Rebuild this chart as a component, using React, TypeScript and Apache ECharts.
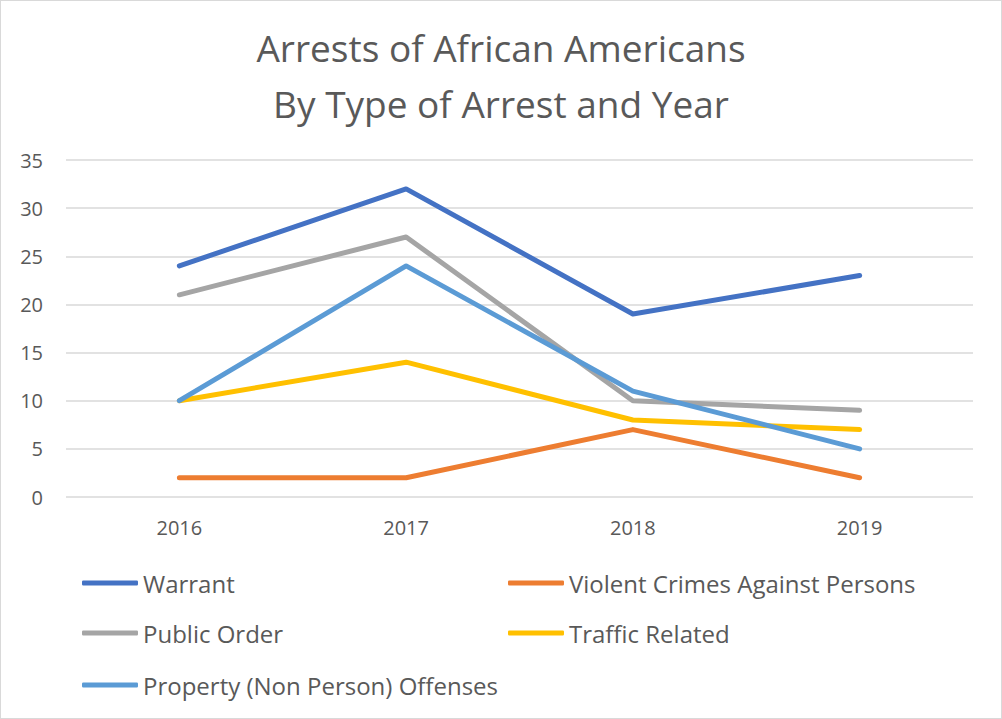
import React, { useEffect, useRef } from "react";
import * as echarts from "echarts";

const years = ["2016", "2017", "2018", "2019"];
const seriesNames = [
  "Warrant",
  "Violent Crimes Against Persons",
  "Public Order",
  "Traffic Related",
  "Property (Non Person) Offenses",
];
const warrant = [24, 32, 19, 23];
const violent = [2, 2, 7, 2];
const publicOrder = [21, 27, 10, 9];
const traffic = [10, 14, 8, 7];
const property = [10, 24, 11, 5];
const colors = ["#4472C4", "#ED7D31", "#A5A5A5", "#FFC000", "#5B9BD5"];
const yTicks = { min: 0, max: 35, interval: 5 };

const FONT = "'Open Sans', 'Noto Sans', sans-serif";
const TEXT = "#595959";

export default function App() {
  const ref = useRef<HTMLDivElement>(null);
  useEffect(() => {
    if (!ref.current) return;
    const chart = echarts.init(ref.current, null, { renderer: "svg" });
    const values = [warrant, violent, publicOrder, traffic, property];
    const legendPos = [
      { left: 81, top: 567 },
      { left: 507, top: 567 },
      { left: 81, top: 617 },
      { left: 507, top: 617 },
      { left: 81, top: 669 },
    ];
    chart.setOption({
      animation: false,
      backgroundColor: "#ffffff",
      title: {
        text: "Arrests of African Americans\nBy Type of Arrest and Year",
        left: "center",
        top: 13,
        textStyle: {
          fontFamily: FONT,
          fontSize: 37,
          fontWeight: "normal",
          color: TEXT,
          lineHeight: 56,
        },
      },
      legend: seriesNames.map((n, i) => ({
        data: [n],
        left: legendPos[i].left,
        top: legendPos[i].top,
        padding: 0,
        icon: "roundRect",
        itemWidth: 56,
        itemHeight: 5,
        textStyle: { fontFamily: FONT, fontSize: 24, color: TEXT, lineHeight: 30 },
        selectedMode: false,
      })),
      grid: { left: 65, right: 28, top: 159, bottom: 221, containLabel: false },
      xAxis: {
        type: "category",
        data: years,
        boundaryGap: true,
        axisLine: { show: false },
        axisTick: { show: false },
        axisLabel: {
          fontFamily: FONT,
          fontSize: 20,
          color: TEXT,
          margin: 20,
        },
      },
      yAxis: {
        type: "value",
        min: yTicks.min,
        max: yTicks.max,
        interval: yTicks.interval,
        axisLine: { show: false },
        axisTick: { show: false },
        axisLabel: {
          fontFamily: FONT,
          fontSize: 20,
          color: TEXT,
          margin: 23,
        },
        splitLine: { lineStyle: { color: "#d9d9d9", width: 1.5 } },
      },
      series: seriesNames.map((n, i) => ({
        name: n,
        type: "line",
        data: values[i],
        symbol: "none",
        color: colors[i],
        lineStyle: { width: 5, color: colors[i], cap: "round", join: "round" },
      })),
    });
    return () => chart.dispose();
  }, []);
  return (
    <div
      style={{
        position: "absolute",
        left: 0,
        top: 0,
        width: 1002,
        height: 719,
        boxSizing: "border-box",
        border: "1px solid #d9d9d9",
        background: "#fff",
      }}
    >
      <div ref={ref} style={{ width: 1000, height: 717 }} />
    </div>
  );
}
